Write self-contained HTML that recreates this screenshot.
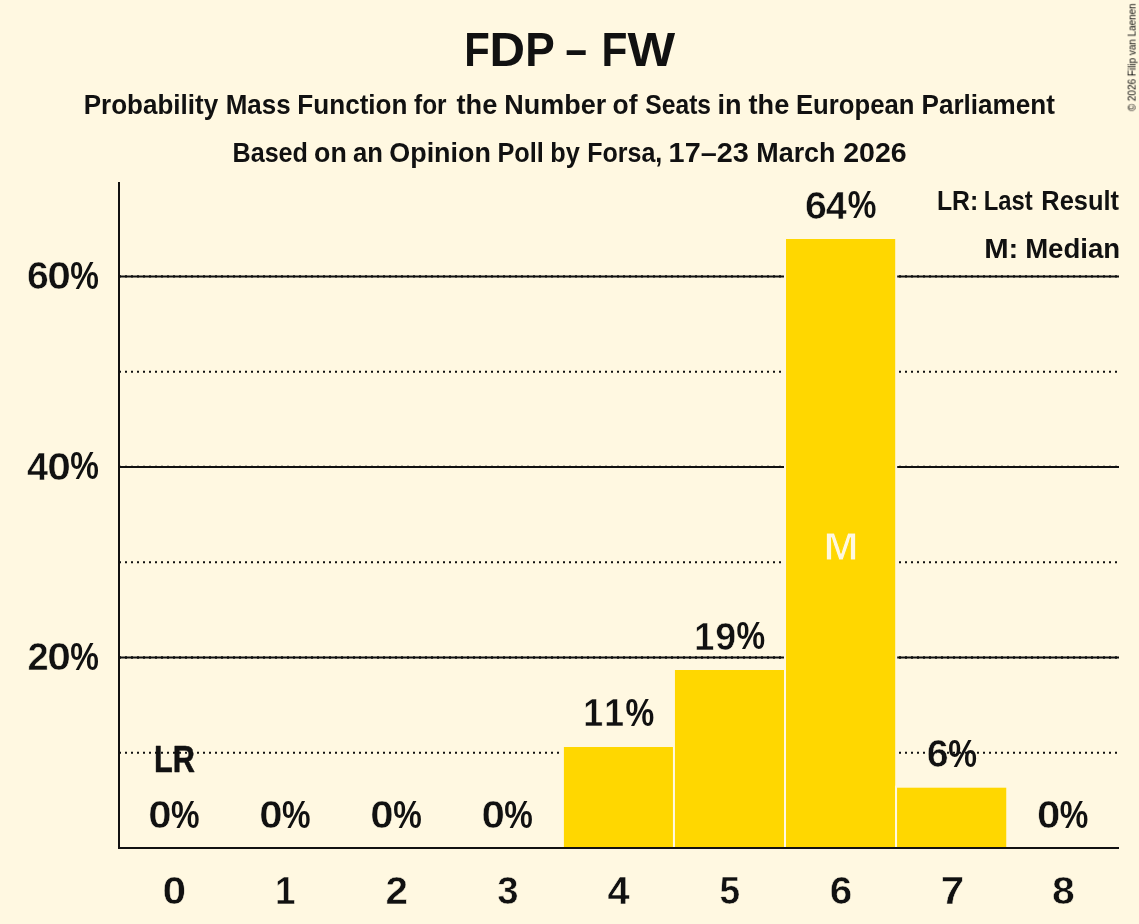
<!DOCTYPE html>
<html lang="en">
<head>
<meta charset="utf-8">
<title>FDP – FW</title>
<style>
html, body { margin: 0; padding: 0; background: #FFF8E1; }
body { width: 1139px; height: 924px; overflow: hidden; }
svg { display: block; }
</style>
</head>
<body>
<svg width="1139" height="924" viewBox="0 0 1139 924">
<rect x="0" y="0" width="1139" height="924" fill="#FFF8E1"/>
<!-- grid lines -->
<g stroke="#111111" fill="none">
<line x1="119.0" x2="1119.0" y1="752.74" y2="752.74" stroke-width="2" stroke-dasharray="2 4"/>
<line x1="119.0" x2="1119.0" y1="562.22" y2="562.22" stroke-width="2" stroke-dasharray="2 4"/>
<line x1="119.0" x2="1119.0" y1="371.70" y2="371.70" stroke-width="2" stroke-dasharray="2 4"/>
<line x1="119.0" x2="1119.0" y1="657.48" y2="657.48" stroke-width="2"/>
<line x1="119.0" x2="1119.0" y1="657.48" y2="657.48" stroke-width="2.3" stroke-dasharray="2 4"/>
<line x1="119.0" x2="1119.0" y1="466.96" y2="466.96" stroke-width="2"/>
<line x1="119.0" x2="1119.0" y1="466.96" y2="466.96" stroke-width="2.3" stroke-dasharray="2 4"/>
<line x1="119.0" x2="1119.0" y1="276.44" y2="276.44" stroke-width="2"/>
<line x1="119.0" x2="1119.0" y1="276.44" y2="276.44" stroke-width="2.3" stroke-dasharray="2 4"/>
</g>
<!-- bars (background-coloured outline separates them) -->
<g fill="#FFD700" stroke="#FFF8E1" stroke-width="2">
<rect x="562.90" y="746.00" width="111.2" height="102.00"/>
<rect x="673.95" y="669.00" width="111.2" height="179.00"/>
<rect x="785.00" y="238.00" width="111.2" height="610.00"/>
<rect x="896.05" y="786.70" width="111.2" height="61.30"/>
</g>
<!-- axes -->
<g stroke="#111111" fill="none">
<line x1="119.0" x2="119.0" y1="182" y2="849.0" stroke-width="2"/>
<line x1="118.0" x2="1119.0" y1="848.0" y2="848.0" stroke-width="2"/>
</g>
<!-- text -->
<g font-family='"Liberation Sans", sans-serif' font-weight="bold" fill="#111111" opacity="0.999">
<text y="65.6" font-size="47.56"><tspan x="464.24" textLength="25.54" lengthAdjust="spacingAndGlyphs">F</tspan><tspan x="489.64" textLength="35.53" lengthAdjust="spacingAndGlyphs">D</tspan><tspan x="525.36" textLength="28.70" lengthAdjust="spacingAndGlyphs">P</tspan> <tspan x="565.59" textLength="21.39" lengthAdjust="spacingAndGlyphs">–</tspan> <tspan x="601.60" textLength="25.90" lengthAdjust="spacingAndGlyphs">F</tspan><tspan x="627.40" textLength="47.65" lengthAdjust="spacingAndGlyphs">W</tspan></text>
<text y="113.7" font-size="28.22"><tspan x="83.66" textLength="134.45" lengthAdjust="spacingAndGlyphs">Probability</tspan> <tspan x="225.66" textLength="64.95" lengthAdjust="spacingAndGlyphs">Mass</tspan> <tspan x="297.35" textLength="110.08" lengthAdjust="spacingAndGlyphs">Function</tspan> <tspan x="414.07" textLength="32.56" lengthAdjust="spacingAndGlyphs">for</tspan> <tspan x="456.56" textLength="40.78" lengthAdjust="spacingAndGlyphs">the</tspan> <tspan x="504.19" textLength="101.97" lengthAdjust="spacingAndGlyphs">Number</tspan> <tspan x="612.56" textLength="24.93" lengthAdjust="spacingAndGlyphs">of</tspan> <tspan x="645.35" textLength="65.68" lengthAdjust="spacingAndGlyphs">Seats</tspan> <tspan x="717.58" textLength="24.07" lengthAdjust="spacingAndGlyphs">in</tspan> <tspan x="748.56" textLength="40.68" lengthAdjust="spacingAndGlyphs">the</tspan> <tspan x="795.98" textLength="118.44" lengthAdjust="spacingAndGlyphs">European</tspan> <tspan x="921.55" textLength="133.32" lengthAdjust="spacingAndGlyphs">Parliament</tspan></text>
<text y="161.6" font-size="28.22"><tspan x="232.52" textLength="75.42" lengthAdjust="spacingAndGlyphs">Based</tspan> <tspan x="314.05" textLength="32.69" lengthAdjust="spacingAndGlyphs">on</tspan> <tspan x="353.12" textLength="29.91" lengthAdjust="spacingAndGlyphs">an</tspan> <tspan x="389.31" textLength="101.55" lengthAdjust="spacingAndGlyphs">Opinion</tspan> <tspan x="497.41" textLength="46.39" lengthAdjust="spacingAndGlyphs">Poll</tspan> <tspan x="550.33" textLength="29.54" lengthAdjust="spacingAndGlyphs">by</tspan> <tspan x="587.23" textLength="75.09" lengthAdjust="spacingAndGlyphs">Forsa,</tspan> <tspan x="668.61" textLength="80.19" lengthAdjust="spacingAndGlyphs">17–23</tspan> <tspan x="756.29" textLength="79.19" lengthAdjust="spacingAndGlyphs">March</tspan> <tspan x="843.19" textLength="63.45" lengthAdjust="spacingAndGlyphs">2026</tspan></text>
<text y="209.8" font-size="28.22"><tspan x="936.94" textLength="41.28" lengthAdjust="spacingAndGlyphs">LR:</tspan> <tspan x="983.71" textLength="49.03" lengthAdjust="spacingAndGlyphs">Last</tspan> <tspan x="1041.30" textLength="77.65" lengthAdjust="spacingAndGlyphs">Result</tspan></text>
<text y="257.9" font-size="28.22"><tspan x="984.23" textLength="34.13" lengthAdjust="spacingAndGlyphs">M:</tspan> <tspan x="1025.14" textLength="95.04" lengthAdjust="spacingAndGlyphs">Median</tspan></text>
<text y="289.1" font-size="38.3" stroke="#FFF8E1" stroke-width="0.5" stroke-linejoin="round"><tspan x="27.11" textLength="21.79" lengthAdjust="spacingAndGlyphs">6</tspan><tspan x="47.26" textLength="23.65" lengthAdjust="spacingAndGlyphs">0</tspan><tspan x="70.15" font-size="37.88" y="288.90" stroke="none" textLength="28.65" lengthAdjust="spacingAndGlyphs">%</tspan></text>
<text y="479.6" font-size="38.3" stroke="#FFF8E1" stroke-width="0.5" stroke-linejoin="round"><tspan x="27.06" textLength="21.10" lengthAdjust="spacingAndGlyphs">4</tspan><tspan x="47.26" textLength="23.65" lengthAdjust="spacingAndGlyphs">0</tspan><tspan x="70.15" font-size="37.88" y="479.40" stroke="none" textLength="28.65" lengthAdjust="spacingAndGlyphs">%</tspan></text>
<text y="670.0" font-size="38.3" stroke="#FFF8E1" stroke-width="0.5" stroke-linejoin="round"><tspan x="27.51" textLength="21.19" lengthAdjust="spacingAndGlyphs">2</tspan><tspan x="47.26" textLength="23.65" lengthAdjust="spacingAndGlyphs">0</tspan><tspan x="70.15" font-size="37.88" y="669.70" stroke="none" textLength="28.65" lengthAdjust="spacingAndGlyphs">%</tspan></text>
<text y="828.4" font-size="38.3" stroke="#FFF8E1" stroke-width="0.5" stroke-linejoin="round"><tspan x="148.18" textLength="23.41" lengthAdjust="spacingAndGlyphs">0</tspan><tspan x="170.95" font-size="37.88" y="828.10" stroke="none" textLength="28.54" lengthAdjust="spacingAndGlyphs">%</tspan></text>
<text y="828.4" font-size="38.3" stroke="#FFF8E1" stroke-width="0.5" stroke-linejoin="round"><tspan x="259.28" textLength="23.41" lengthAdjust="spacingAndGlyphs">0</tspan><tspan x="282.05" font-size="37.88" y="828.10" stroke="none" textLength="28.54" lengthAdjust="spacingAndGlyphs">%</tspan></text>
<text y="828.4" font-size="38.3" stroke="#FFF8E1" stroke-width="0.5" stroke-linejoin="round"><tspan x="370.38" textLength="23.41" lengthAdjust="spacingAndGlyphs">0</tspan><tspan x="393.15" font-size="37.88" y="828.10" stroke="none" textLength="28.54" lengthAdjust="spacingAndGlyphs">%</tspan></text>
<text y="828.4" font-size="38.3" stroke="#FFF8E1" stroke-width="0.5" stroke-linejoin="round"><tspan x="481.48" textLength="23.41" lengthAdjust="spacingAndGlyphs">0</tspan><tspan x="504.25" font-size="37.88" y="828.10" stroke="none" textLength="28.54" lengthAdjust="spacingAndGlyphs">%</tspan></text>
<text y="828.4" font-size="38.3" stroke="#FFF8E1" stroke-width="0.5" stroke-linejoin="round"><tspan x="1036.98" textLength="23.41" lengthAdjust="spacingAndGlyphs">0</tspan><tspan x="1059.75" font-size="37.88" y="828.10" stroke="none" textLength="28.54" lengthAdjust="spacingAndGlyphs">%</tspan></text>
<text y="771.8" font-size="36.95" stroke="#111111" stroke-width="0.5" stroke-linejoin="round"><tspan x="154.03" textLength="40.99" lengthAdjust="spacingAndGlyphs">LR</tspan></text>
<text y="726.4" font-size="38.3" stroke="#FFF8E1" stroke-width="0.5" stroke-linejoin="round"><tspan x="583.23" textLength="19.89" lengthAdjust="spacingAndGlyphs">1</tspan><tspan x="604.25" textLength="19.77" lengthAdjust="spacingAndGlyphs">1</tspan><tspan x="625.45" font-size="37.88" y="726.15" stroke="none" textLength="28.75" lengthAdjust="spacingAndGlyphs">%</tspan></text>
<text y="649.5" font-size="38.3" stroke="#FFF8E1" stroke-width="0.5" stroke-linejoin="round"><tspan x="694.22" textLength="20.02" lengthAdjust="spacingAndGlyphs">1</tspan><tspan x="715.23" textLength="20.96" lengthAdjust="spacingAndGlyphs">9</tspan><tspan x="736.55" font-size="37.88" y="649.20" stroke="none" textLength="28.65" lengthAdjust="spacingAndGlyphs">%</tspan></text>
<text y="218.5" font-size="38.3" stroke="#FFF8E1" stroke-width="0.5" stroke-linejoin="round"><tspan x="805.00" textLength="21.90" lengthAdjust="spacingAndGlyphs">6</tspan><tspan x="825.76" textLength="21.10" lengthAdjust="spacingAndGlyphs">4</tspan><tspan x="847.65" font-size="37.88" y="218.30" stroke="none" textLength="28.65" lengthAdjust="spacingAndGlyphs">%</tspan></text>
<text y="767.1" font-size="38.3" stroke="#FFF8E1" stroke-width="0.5" stroke-linejoin="round"><tspan x="926.70" textLength="21.90" lengthAdjust="spacingAndGlyphs">6</tspan><tspan x="948.35" font-size="37.88" y="766.80" stroke="none" textLength="28.75" lengthAdjust="spacingAndGlyphs">%</tspan></text>
<text y="559.8" font-size="38.11" fill="#FFF8E1" stroke="#FFD700" stroke-width="0.9" stroke-linejoin="round"><tspan x="823.59" textLength="35.02" lengthAdjust="spacingAndGlyphs">M</tspan></text>
<text y="904.2" font-size="38.3" stroke="#FFF8E1" stroke-width="0.5" stroke-linejoin="round"><tspan x="162.56" textLength="23.65" lengthAdjust="spacingAndGlyphs">0</tspan></text>
<text y="904.2" font-size="38.3" stroke="#FFF8E1" stroke-width="0.5" stroke-linejoin="round"><tspan x="275.05" textLength="20.51" lengthAdjust="spacingAndGlyphs">1</tspan></text>
<text y="904.2" font-size="38.3" stroke="#FFF8E1" stroke-width="0.5" stroke-linejoin="round"><tspan x="385.42" textLength="22.50" lengthAdjust="spacingAndGlyphs">2</tspan></text>
<text y="904.2" font-size="38.3" stroke="#FFF8E1" stroke-width="0.5" stroke-linejoin="round"><tspan x="497.15" textLength="21.31" lengthAdjust="spacingAndGlyphs">3</tspan></text>
<text y="904.2" font-size="38.3" stroke="#FFF8E1" stroke-width="0.5" stroke-linejoin="round"><tspan x="607.52" textLength="22.17" lengthAdjust="spacingAndGlyphs">4</tspan></text>
<text y="904.2" font-size="38.3" stroke="#FFF8E1" stroke-width="0.5" stroke-linejoin="round"><tspan x="719.55" textLength="20.62" lengthAdjust="spacingAndGlyphs">5</tspan></text>
<text y="904.2" font-size="38.3" stroke="#FFF8E1" stroke-width="0.5" stroke-linejoin="round"><tspan x="829.75" textLength="22.50" lengthAdjust="spacingAndGlyphs">6</tspan></text>
<text y="904.2" font-size="38.3" stroke="#FFF8E1" stroke-width="0.5" stroke-linejoin="round"><tspan x="940.80" textLength="23.47" lengthAdjust="spacingAndGlyphs">7</tspan></text>
<text y="904.2" font-size="38.3" stroke="#FFF8E1" stroke-width="0.5" stroke-linejoin="round"><tspan x="1052.00" textLength="22.77" lengthAdjust="spacingAndGlyphs">8</tspan></text>
<text transform="translate(1135.6 111.25) rotate(-90)" font-weight="normal" font-size="10" fill="#0a0a0a" textLength="107.91" lengthAdjust="spacingAndGlyphs">© 2026 Filip van Laenen</text>
</g>
</svg>
</body>
</html>
